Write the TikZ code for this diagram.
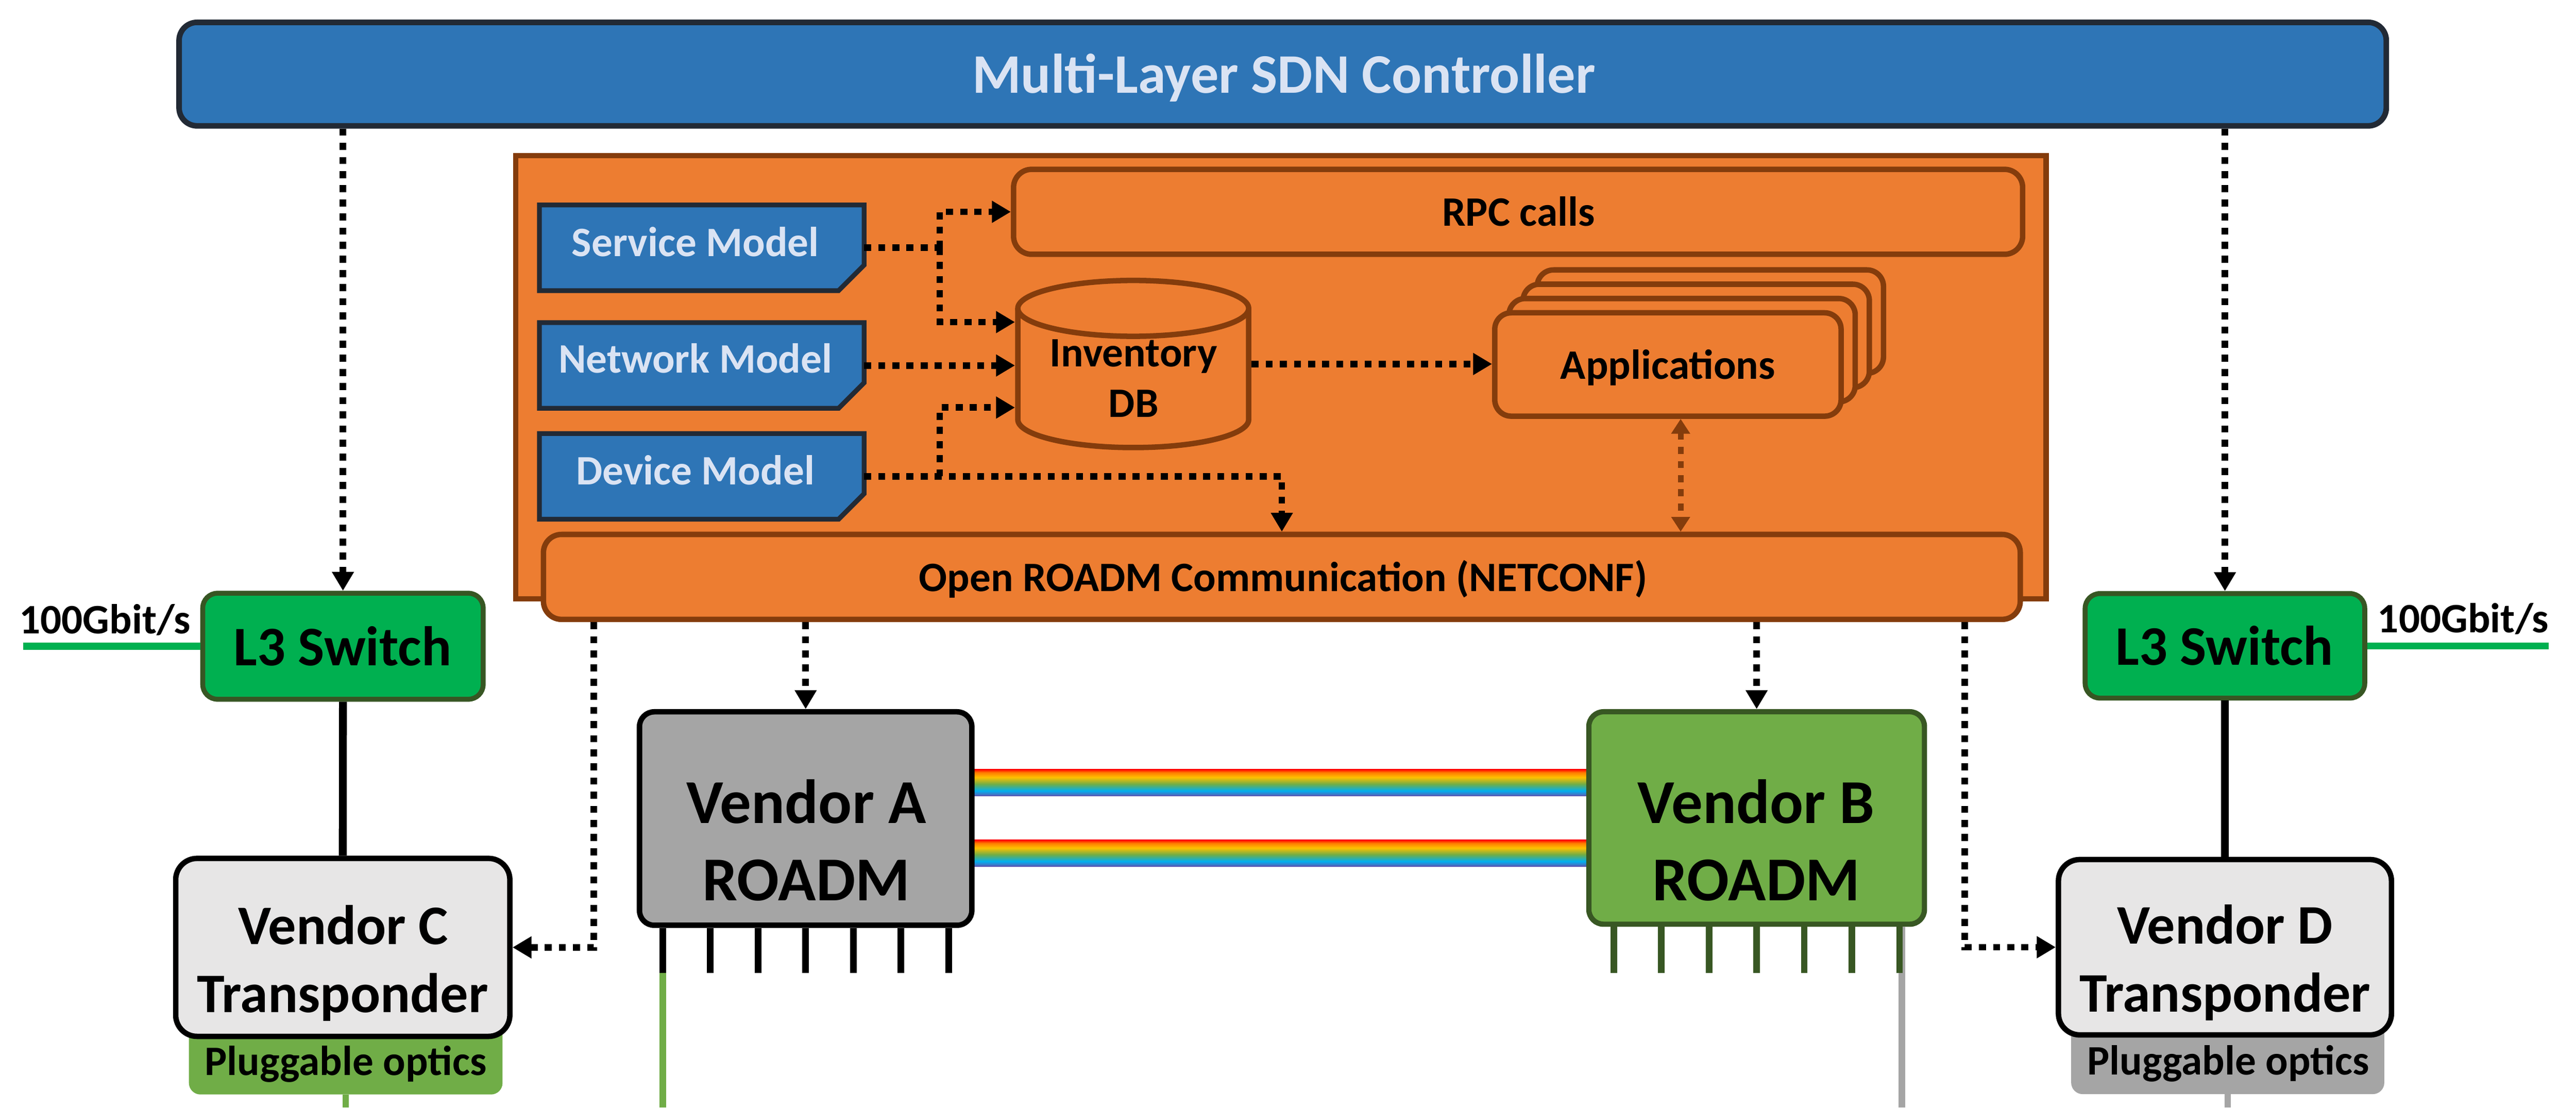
\documentclass[tikz,border=0pt]{standalone}
\usepackage{fontspec}
\setmainfont{Carlito}
\usetikzlibrary{arrows.meta}
\definecolor{cBlue}{HTML}{2E75B6}
\definecolor{cDark}{HTML}{222A35}
\definecolor{cTxt}{HTML}{DAE3F3}
\definecolor{cOrg}{HTML}{ED7D31}
\definecolor{cBrn}{HTML}{843C0C}
\definecolor{cLthree}{HTML}{00B050}
\definecolor{cLthreeB}{HTML}{375623}
\definecolor{cRG}{HTML}{70AD47}
\definecolor{cRGb}{HTML}{385723}
\definecolor{cGry}{HTML}{A5A5A5}
\definecolor{cLtG}{HTML}{E7E6E6}
\definecolor{rbR}{HTML}{FF0000}
\definecolor{rbO}{HTML}{FF7A00}
\definecolor{rbY}{HTML}{FFC000}
\definecolor{rbG}{HTML}{70AD47}
\definecolor{rbL}{HTML}{00B0F0}
\definecolor{rbB}{HTML}{4472C4}
\definecolor{rbP}{HTML}{5B3FA8}
\pgfdeclareverticalshading{rainbowband}{100bp}{color(0bp)=(rbP); color(25bp)=(rbP); color(28bp)=(rbB); color(35bp)=(rbL); color(47.5bp)=(rbG); color(60bp)=(rbY); color(69bp)=(rbO); color(75bp)=(rbR); color(100bp)=(rbR)}
\begin{document}
\begin{tikzpicture}[x=1pt,y=-1pt,
  fmid/.style={font=\bfseries\fontsize{25.5}{30}\selectfont},
  fbig/.style={font=\bfseries\fontsize{34}{40}\selectfont},
  froad/.style={font=\bfseries\fontsize{38}{46}\selectfont},
  txt/.style={anchor=base, inner sep=0pt},
  hidden/.style={inner sep=0pt, outer sep=0pt},
  ctrlbox/.style={draw=cDark, fill=cBlue, line width=3.4pt, rounded corners=11pt, inner sep=0pt},
  modelshape/.style={draw=cDark, fill=cBlue, line width=2.9pt},
  orgbox/.style={draw=cBrn, fill=cOrg, line width=3.3pt, rounded corners=11pt, inner sep=0pt},
  lthreebox/.style={draw=cLthreeB, fill=cLthree, line width=3pt, rounded corners=9pt, inner sep=0pt},
  trbox/.style={draw=black, fill=cLtG, line width=3.3pt, rounded corners=13pt, inner sep=0pt},
  plug/.style={rounded corners=7pt, inner sep=0pt, outer sep=0pt},
  roadmA/.style={draw=black, fill=cGry, line width=3.3pt, rounded corners=9pt, inner sep=0pt},
  roadmB/.style={draw=cRGb, fill=cRG, line width=3.2pt, rounded corners=9pt, inner sep=0pt},
  dotline/.style={draw=black, line width=4pt, dash pattern=on 4.3pt off 4.3pt},
  dotarrow/.style={dotline, -{Triangle[length=11.5pt,width=12.7pt]}},
  brnarrow/.style={draw=cBrn, line width=3.5pt, dash pattern=on 4.3pt off 4.3pt, {Triangle[length=9pt,width=11pt]}-{Triangle[length=9pt,width=11pt]}},
  solidlink/.style={draw=black, line width=4.8pt},
  gbitline/.style={draw=cLthree, line width=4.2pt},
  port/.style={line width=4pt},
]
\fill[white] (0,0) rectangle (1568,674);
\useasboundingbox (0,0) rectangle (1568,674);

% Controller
\node[ctrlbox, minimum width=1343.5pt, minimum height=63pt] (ctrl) at (780.75,45.1) {};
\node[txt, fbig, text=cTxt] (ctrlT) at (781.4,56.6) {Multi-Layer SDN Controller};

% Orange container
\node[draw=cBrn, fill=cOrg, line width=3.2pt, inner sep=0pt, minimum width=931.5pt, minimum height=269.8pt] (ctr) at (779.7,229.5) {};

% RPC calls
\node[orgbox, minimum width=614.2pt, minimum height=51.7pt] (rpc) at (924.05,128.9) {};
\node[txt, fmid] (rpcT) at (924.3,137.5) {RPC calls};

% Models
\node[hidden, minimum width=197.6pt, minimum height=52.1pt] (sm) at (427.15,150.8) {};
\node[hidden, minimum width=197.6pt, minimum height=52.1pt] (nm) at (427.15,222.4) {};
\node[hidden, minimum width=197.6pt, minimum height=52.1pt] (dm) at (427.15,289.9) {};
\foreach \m in {sm,nm,dm}
  \draw[modelshape] (\m.north west) -- (\m.north east) -- ([yshift=15.5pt]\m.south east) -- ([xshift=-15.5pt]\m.south east) -- (\m.south west) -- cycle;
\node[txt, fmid, text=cTxt] (smT) at (423.3,155.9) {Service Model};
\node[txt, fmid, text=cTxt] (nmT) at (423.3,227) {Network Model};
\node[txt, fmid, text=cTxt] (dmT) at (423.3,295) {Device Model};

% Inventory DB cylinder
\node[hidden, minimum width=144pt, minimum height=105pt] (db) at (689.8,221.5) {};
\draw[draw=cBrn, fill=cOrg, line width=3.3pt] (619.55,187.65) -- (619.55,255.35) arc[start angle=180, end angle=360, x radius=70.25pt, y radius=17pt] -- (760.05,187.65);
\draw[draw=cBrn, fill=cOrg, line width=3.3pt] (689.8,187.65) ellipse[x radius=70.25pt, y radius=17pt];
\node[txt, fmid] (dbTa) at (690,223) {Inventory};
\node[txt, fmid] (dbTb) at (690,254) {DB};

% Applications stack
\foreach \k/\nmn in {3/appsc,2/appsb,1/appsa}
  \node[orgbox, rounded corners=10pt, minimum width=210.8pt, minimum height=62.9pt] (\nmn) at (1015.25+8.6*\k, 221.8-8.7*\k) {};
\node[orgbox, rounded corners=10pt, minimum width=210.8pt, minimum height=62.9pt] (apps) at (1015.25,221.8) {};
\node[txt, fmid] (appsT) at (1015.2,230.6) {Applications};

% NETCONF
\node[orgbox, minimum width=898.9pt, minimum height=51.7pt] (nc) at (780.25,351.05) {};
\node[txt, fmid] (ncT) at (781,360) {Open ROADM Communication (NETCONF)};

% L3 switches
\node[lthreebox, minimum width=170.7pt, minimum height=64.5pt] (l3l) at (208.75,393.25) {};
\node[txt, fbig] (l3lT) at (208.5,405) {L3 Switch};
\node[lthreebox, minimum width=170.2pt, minimum height=63.6pt] (l3r) at (1354.3,393) {};
\node[txt, fbig] (l3rT) at (1354,404.8) {L3 Switch};
\node[txt, fmid] (gbL) at (63.8,385.6) {100Gbit/s};
\node[txt, fmid] (gbR) at (1499.3,385) {100Gbit/s};
\coordinate (gL) at (14,393.25);
\coordinate (gR) at (1551.5,393);
\draw[gbitline] (gL) -- (l3l.west);
\draw[gbitline] (l3r.east) -- (gR);

% Pluggable optics and transponders
\coordinate (bot) at (0,674);
\node[plug, fill=cRG, minimum width=190.9pt, minimum height=66pt] (pc) at (210.45,633) {};
\node[plug, fill=cGry, minimum width=190.6pt, minimum height=65.8pt] (pd) at (1356,632.9) {};
\draw[cRG, line width=4pt] (pc.south) -- (pc.south |- bot);
\draw[cGry, line width=4pt] (pd.south) -- (pd.south |- bot);
\node[trbox, minimum width=203.4pt, minimum height=108.3pt] (vc) at (208.65,576.5) {};
\node[trbox, minimum width=202.7pt, minimum height=106.7pt] (vd) at (1354.3,576.4) {};
\node[txt, fbig] (vcTa) at (208.9,574.6) {Vendor C};
\node[txt, fbig] (vcTb) at (208.6,616) {Transponder};
\node[txt, fmid] (pcT) at (210.4,654.4) {Pluggable optics};
\node[txt, fbig] (vdTa) at (1354.3,574.5) {Vendor D};
\node[txt, fbig] (vdTb) at (1354.3,615.8) {Transponder};
\node[txt, fmid] (pdT) at (1356.3,654) {Pluggable optics};

% Rainbow fibre bands
\shade[shading=rainbowband] (590,468.1) rectangle (968,484.5);
\shade[shading=rainbowband] (590,511.1) rectangle (968,527.4);

% ROADMs
\node[roadmA, minimum width=202.3pt, minimum height=129.9pt] (va) at (490.4,498.1) {};
\node[roadmB, minimum width=204.3pt, minimum height=129.3pt] (vb) at (1069.25,497.75) {};
\node[txt, froad] (vaTa) at (490.8,501) {Vendor A};
\node[txt, froad] (vaTb) at (490.8,548) {ROADM};
\node[txt, froad] (vbTa) at (1069,501) {Vendor B};
\node[txt, froad] (vbTb) at (1069,548) {ROADM};

% Ports
\coordinate (pe) at (0,592);
\draw[cGry, line width=4pt] ([xshift=88.3pt]vb.south) -- ([xshift=88.3pt]vb.south |- bot);
\foreach \i in {-3,...,3} {
  \draw[port, black] ([xshift=\i*29pt]va.south) -- ([xshift=\i*29pt]va.south |- pe);
  \draw[port, cRGb] ([xshift=\i*29pt]vb.south) -- ([xshift=\i*29pt]vb.south |- pe);
}
\draw[port, cRG] ([xshift=-87pt]va.south |- pe) -- ([xshift=-87pt]va.south |- bot);

% Connectors
\draw[dotarrow] (ctrl.south -| l3l.north) -- (l3l.north);
\draw[dotarrow] (ctrl.south -| l3r.north) -- (l3r.north);
\coordinate (jS) at (572,150.8);
\draw[dotline] (sm.east) -- (jS);
\draw[dotarrow] (jS) |- (rpc.west);
\draw[dotarrow] (jS) |- ([yshift=25.5pt]db.west);
\draw[dotarrow] (nm.east) -- (nm.east -| db.west);
\coordinate (jD) at (572,289.9);
\draw[dotarrow] (dm.east) -| (nc.north);
\draw[dotarrow] (jD) |- ([yshift=-26.5pt]db.west);
\draw[dotarrow] (db.east) -- (db.east -| apps.west);
\draw[brnarrow] ([xshift=7.75pt]apps.south) -- ([xshift=7.75pt]apps.south |- nc.north);
\coordinate (ncC) at (361.5,0);
\coordinate (ncD) at (1196,0);
\draw[dotarrow] (nc.south -| ncC) |- (vc.east);
\draw[dotarrow] (nc.south -| va.north) -- (va.north);
\draw[dotarrow] (nc.south -| vb.north) -- (vb.north);
\draw[dotarrow] (nc.south -| ncD) |- (vd.west);
\draw[solidlink] (l3l.south) -- (vc.north);
\draw[solidlink] (l3r.south) -- (vd.north);
\end{tikzpicture}
\end{document}
